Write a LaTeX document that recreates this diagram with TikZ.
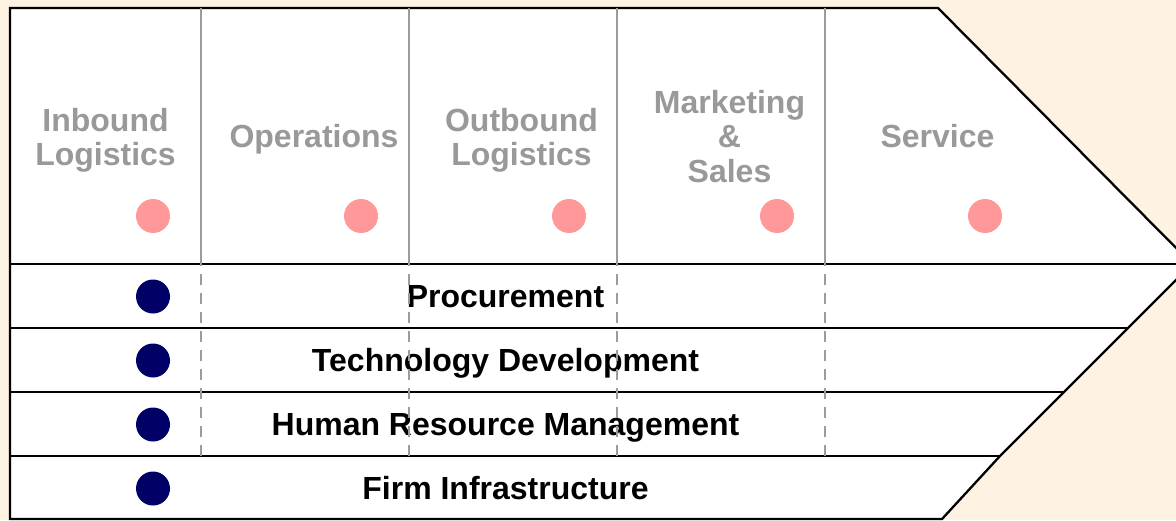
\documentclass[tikz,border=0pt]{standalone}
\usepackage{fontspec}
\setmainfont{Liberation Sans}
\definecolor{cream}{HTML}{FEF3E3}
\definecolor{txtgray}{HTML}{999999}
\definecolor{linegray}{HTML}{9C9C9C}
\definecolor{dotpink}{HTML}{FF9999}
\definecolor{navy}{HTML}{000066}
\tikzset{
  frame/.style={draw=black, line width=2.3pt, line join=miter},
  colline/.style={draw=linegray, line width=2.2pt},
  dashline/.style={draw=linegray, line width=2.2pt, dash pattern=on 11pt off 8pt, dash phase=9pt},
  primary/.style={font=\fontsize{32}{34.5}\selectfont\bfseries, text=txtgray, align=center, inner sep=0pt, anchor=north},
  support/.style={font=\fontsize{32}{34.5}\selectfont\bfseries, text=black, inner sep=0pt, anchor=base},
  pdot/.style={circle, fill=dotpink, minimum size=34pt, inner sep=0pt},
  sdot/.style={circle, fill=navy, minimum size=34pt, inner sep=0pt}
}
\begin{document}
\begin{tikzpicture}[x=1pt,y=-1pt]
\useasboundingbox (0,0) rectangle (1176,520);
\fill[cream] (0,0) rectangle (1176,520);
\clip (0,0) rectangle (1176,520);
% frame corners
\coordinate (tl) at (10,8);
\coordinate (tr) at (938,8);
\coordinate (tip) at (1192,264);
\coordinate (r1) at (1128,328);
\coordinate (r2) at (1064,392);
\coordinate (r3) at (1000,456);
\coordinate (br) at (942,519);
\coordinate (bl) at (10,519);
\coordinate (l0) at (10,264);
\coordinate (l1) at (10,328);
\coordinate (l2) at (10,392);
\coordinate (l3) at (10,456);
\fill[white] (tl) -- (tr) -- (tip) -- (r1) -- (r2) -- (r3) -- (br) -- (bl) -- cycle;
% black lines
\draw[frame] (tl) -- (tr) -- (tip) -- (r1) -- (r2) -- (r3) -- (br) -- (bl) -- cycle;
\draw[frame] (l0) -- (tip);
\draw[frame] (l1) -- (r1);
\draw[frame] (l2) -- (r2);
\draw[frame] (l3) -- (r3);
% column separators (solid)
\foreach \i/\x in {1/201,2/409,3/617,4/825}{
  \coordinate (ct\i) at (\x,8);
  \coordinate (cm\i) at (\x,264);
  \coordinate (cb\i) at (\x,456);
  \draw[colline] (ct\i) -- (cm\i);
}
% primary activity labels
\node[primary] (inb) at (105.5,108) {Inbound\\Logistics};
\node[primary] (ops) at (314,124.5) {Operations};
\node[primary] (outb) at (521.5,108) {Outbound\\Logistics};
\node[primary] (mks) at (729.5,90) {Marketing\\\&\\Sales};
\node[primary] (srv) at (937.5,124.5) {Service};
% pink dots
\node[pdot] (p1) at (153,216) {};
\node[pdot] (p2) at (361,216) {};
\node[pdot] (p3) at (569,216) {};
\node[pdot] (p4) at (777,216) {};
\node[pdot] (p5) at (985,216) {};
% support activity labels
\node[support] (proc) at (505.5,307.5) {Procurement};
\node[support] (tech) at (505.5,371.5) {Technology Development};
\node[support] (hrm) at (505.5,435.5) {Human Resource Management};
\node[support] (firm) at (505.5,499.5) {Firm Infrastructure};
% navy dots
\node[sdot] (s1) at (153,296.5) {};
\node[sdot] (s2) at (153,360.5) {};
\node[sdot] (s3) at (153,424.5) {};
\node[sdot] (s4) at (153,488.5) {};
% dashed separators on top
\foreach \i in {1,2,3,4}{
  \draw[dashline] (cm\i) -- (cb\i);
}
\end{tikzpicture}
\end{document}
